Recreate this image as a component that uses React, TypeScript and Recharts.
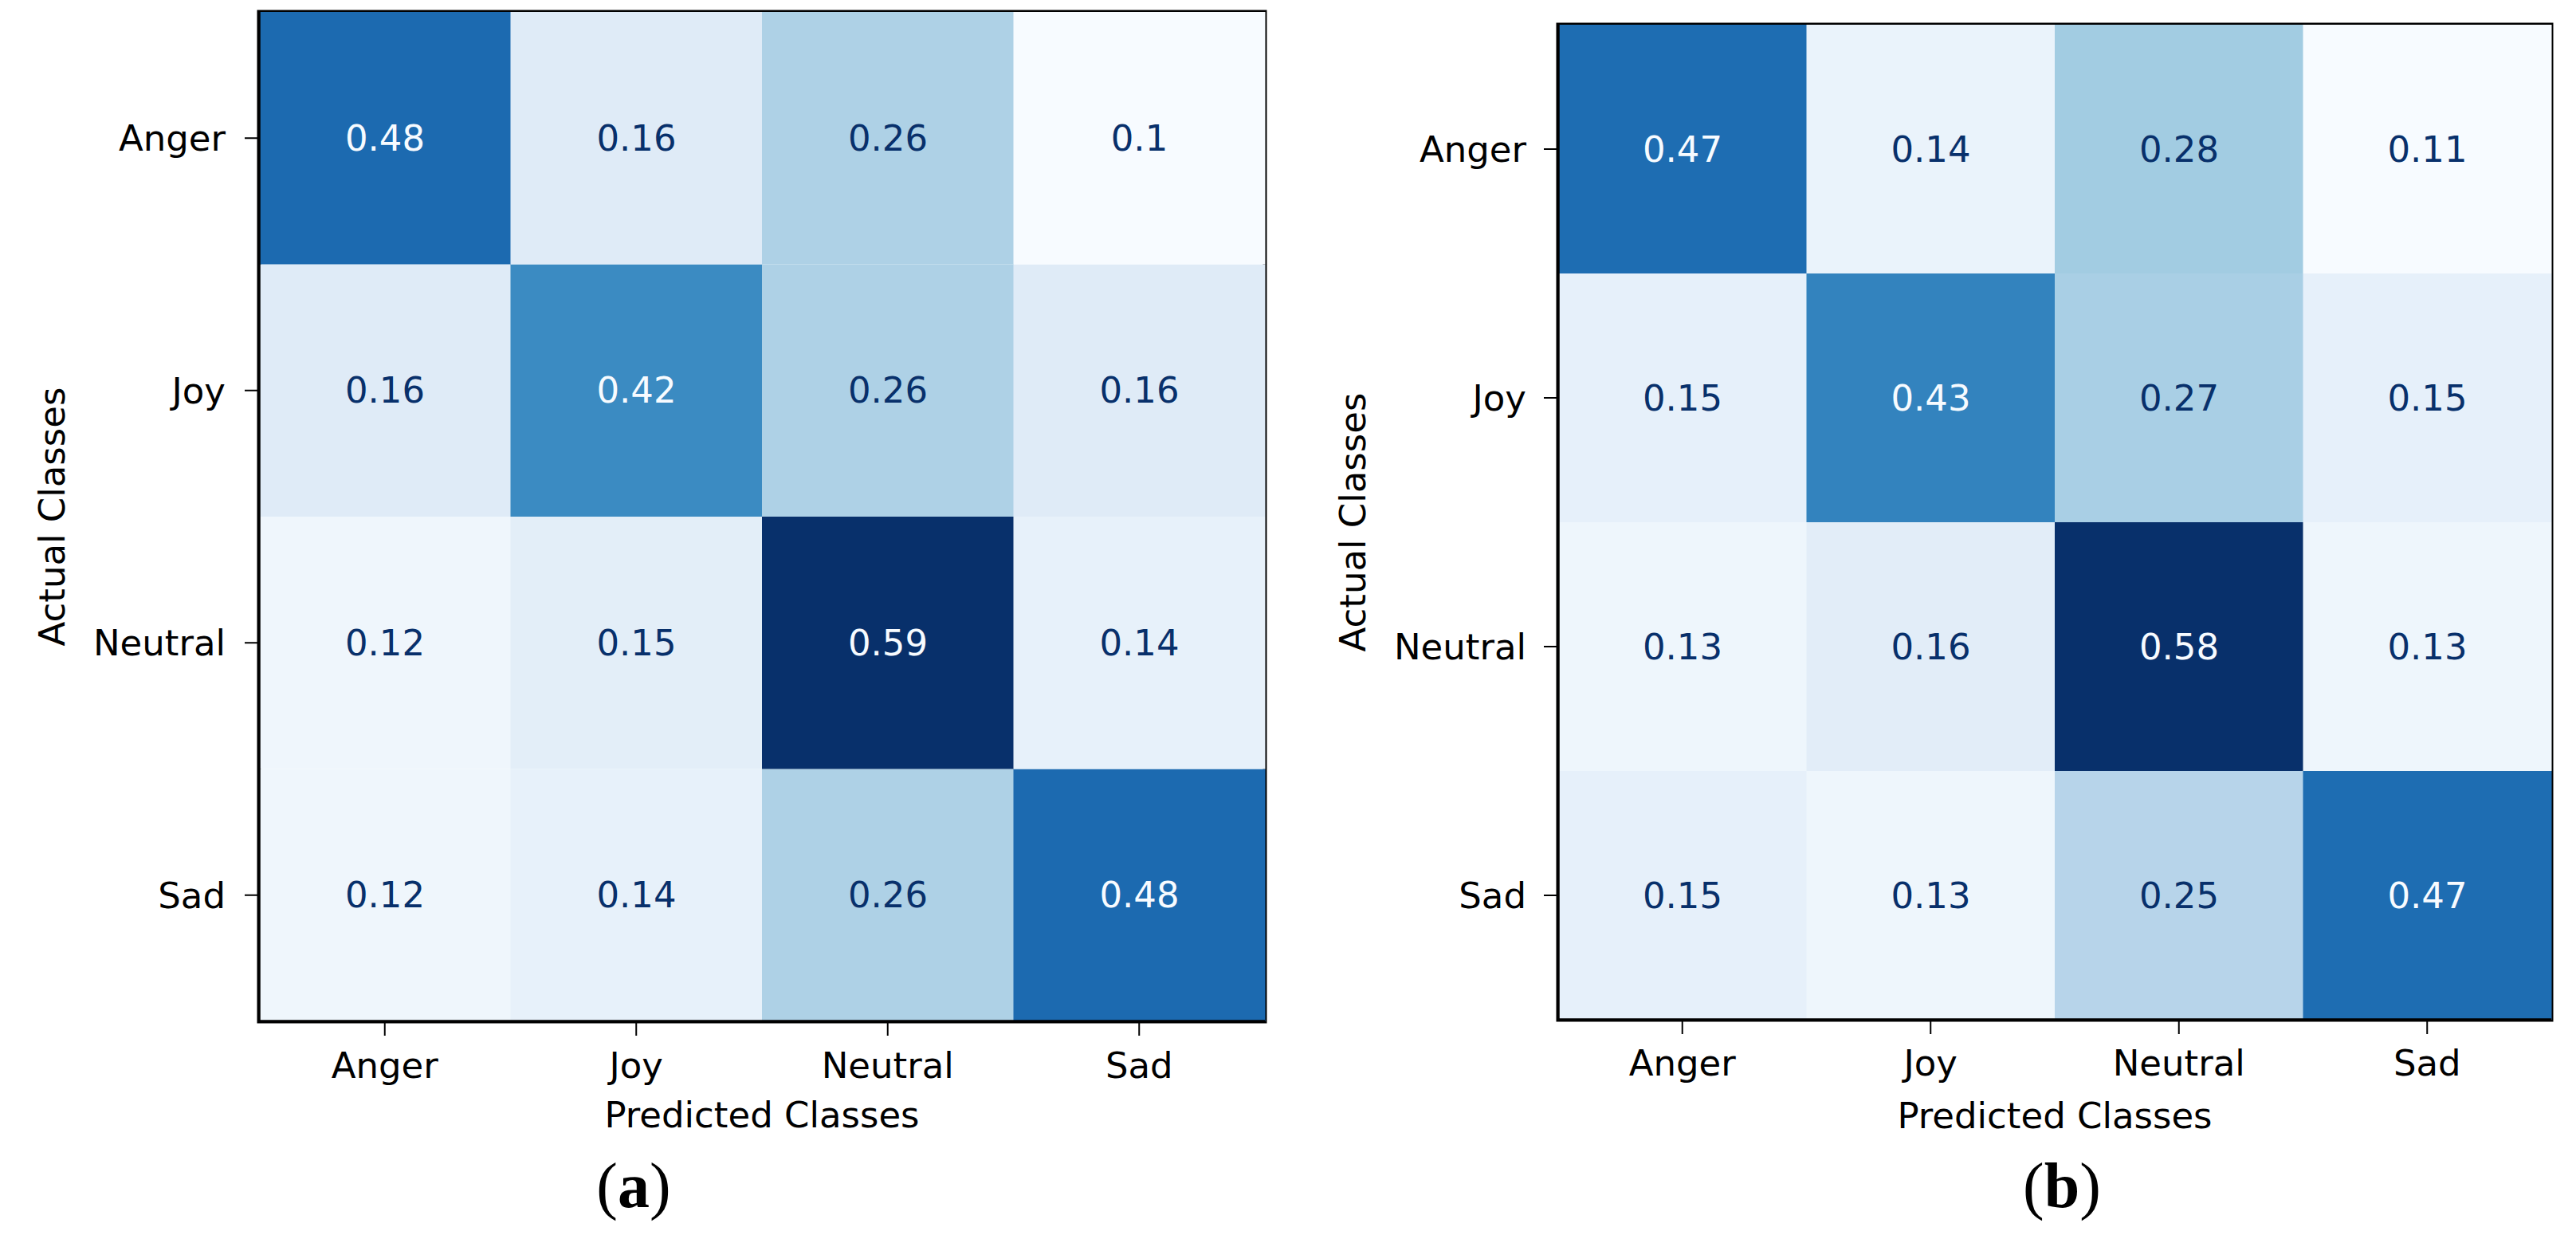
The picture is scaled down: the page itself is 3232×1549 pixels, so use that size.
import React from 'react';
import { BarChart, Bar, XAxis, YAxis, Cell, LabelList, ReferenceArea } from 'recharts';

const classes = ['Anger', 'Joy', 'Neutral', 'Sad'];
// rows = actual class, columns = predicted class
const matrixA = [
  [0.48, 0.16, 0.26, 0.1],
  [0.16, 0.42, 0.26, 0.16],
  [0.12, 0.15, 0.59, 0.14],
  [0.12, 0.14, 0.26, 0.48],
];
const matrixB = [
  [0.47, 0.14, 0.28, 0.11],
  [0.15, 0.43, 0.27, 0.15],
  [0.13, 0.16, 0.58, 0.13],
  [0.15, 0.13, 0.25, 0.47],
];
const yTicks = [3.5, 2.5, 1.5, 0.5];
const xAxisTitle = 'Predicted Classes';
const yAxisTitle = 'Actual Classes';
const captionLetters = ['a', 'b'];

const BLUES = ['#f7fbff', '#deebf7', '#c6dbef', '#9ecae1', '#6baed6', '#4292c6', '#2171b5', '#08519c', '#08306b'];

function hexToRgb(h: string) {
  return [parseInt(h.slice(1, 3), 16), parseInt(h.slice(3, 5), 16), parseInt(h.slice(5, 7), 16)];
}
function blues(t: number) {
  const tt = Math.max(0, Math.min(1, t));
  const p = tt * (BLUES.length - 1);
  const i = Math.min(BLUES.length - 2, Math.floor(p));
  const f = p - i;
  const a = hexToRgb(BLUES[i]);
  const b = hexToRgb(BLUES[i + 1]);
  const c = a.map((v, k) => Math.round(v + (b[k] - v) * f));
  return `rgb(${c[0]},${c[1]},${c[2]})`;
}

function buildRows(matrix: number[][]) {
  return classes.map((pred, j) => {
    const row: any = { pred };
    classes.forEach((_a, i) => {
      row['h' + i] = 1;
      row['v' + i] = matrix[i][j];
    });
    return row;
  });
}

const FONT = "'DejaVu Sans', sans-serif";
const FS = 45;

type PanelProps = {
  matrix: number[][];
  left: number;
  plotLeft: number;
  plotRight: number;
  plotTop: number;
  plotBottom: number;
  yLabelX: number;
  xTickMargin: number;
  yTickMargin: number;
  xLabelOffset: number;
};

function Panel(p: PanelProps) {
  const W = 1616;
  const H = 1549;
  const rows = buildRows(p.matrix);
  const flat = p.matrix.flat();
  const vmin = Math.min(...flat);
  const vmax = Math.max(...flat);
  const thr = (vmin + vmax) / 2;
  const order = [3, 2, 1, 0];
  const tickStyle = { fontFamily: FONT, fontSize: FS, fill: '#000' };
  const axisLine = { stroke: '#000', strokeWidth: 3.5 };
  const renderCell = (props: any) => {
    const { x, y, width, height, value } = props;
    const color = value >= thr ? BLUES[0] : BLUES[BLUES.length - 1];
    return (
      <text
        x={x + width / 2}
        y={y + height / 2}
        textAnchor="middle"
        dominantBaseline="central"
        fontFamily={FONT}
        fontSize={FS}
        fill={color}
      >
        {String(value)}
      </text>
    );
  };
  return (
    <div style={{ position: 'absolute', left: p.left, top: 0, width: W, height: H }}>
      <BarChart
        width={W}
        height={H}
        data={rows}
        barCategoryGap={0}
        barGap={0}
        margin={{ top: p.plotTop, right: W - p.plotRight, bottom: 0, left: 0 }}
      >
        {order.map((i) => (
          <Bar key={i} dataKey={'h' + i} stackId="s" isAnimationActive={false}>
            {rows.map((r, j) => (
              <Cell key={j} fill={blues((r['v' + i] - vmin) / (vmax - vmin))} />
            ))}
            <LabelList dataKey={'v' + i} content={renderCell} />
          </Bar>
        ))}
        <XAxis
          dataKey="pred"
          type="category"
          interval={0}
          height={H - p.plotBottom}
          tickSize={18}
          tickMargin={p.xTickMargin}
          tick={tickStyle}
          tickLine={{ stroke: '#000', strokeWidth: 2 }}
          axisLine={axisLine}
          label={{
            value: xAxisTitle,
            position: 'insideTop',
            offset: p.xLabelOffset,
            style: { fontFamily: FONT, fontSize: FS, fill: '#000' },
          }}
        />
        <YAxis
          type="number"
          domain={[0, 4]}
          ticks={yTicks}
          width={p.plotLeft}
          tickSize={18}
          tickMargin={p.yTickMargin}
          tick={tickStyle}
          tickLine={{ stroke: '#000', strokeWidth: 2 }}
          axisLine={axisLine}
          tickFormatter={(v: number) => classes[3 - Math.floor(v)]}
          label={{
            value: yAxisTitle,
            angle: -90,
            position: 'insideLeft',
            offset: p.yLabelX,
            style: { fontFamily: FONT, fontSize: FS, fill: '#000', textAnchor: 'middle' },
          }}
        />
        <ReferenceArea
          x1={classes[0]}
          x2={classes[classes.length - 1]}
          y1={0}
          y2={4}
          fill="none"
          fillOpacity={0}
          stroke="#000"
          strokeWidth={5}
          ifOverflow="visible"
        />
      </BarChart>
    </div>
  );
}

export default function App() {
  return (
    <div style={{ position: 'absolute', left: 0, top: 0, width: 3232, height: 1549, background: '#fff', overflow: 'hidden' }}>
      <Panel
        matrix={matrixA}
        left={0}
        plotLeft={325}
        plotRight={1587}
        plotTop={15}
        plotBottom={1281}
        yLabelX={65}
        xTickMargin={21}
        yTickMargin={24}
        xLabelOffset={101}
      />
      <Panel
        matrix={matrixB}
        left={1616}
        plotLeft={339}
        plotRight={1585}
        plotTop={31}
        plotBottom={1279}
        yLabelX={81}
        xTickMargin={20}
        yTickMargin={22}
        xLabelOffset={104}
      />
      <svg width={3232} height={1549} style={{ position: 'absolute', left: 0, top: 0, pointerEvents: 'none' }}>
        {captionLetters.map((c, k) => (
          <text
            key={c}
            x={k === 0 ? 795 : 2587}
            y={1514}
            textAnchor="middle"
            fontFamily="'Liberation Serif', serif"
            fontSize={80}
            fill="#000"
          >
            (<tspan fontWeight="bold">{c}</tspan>)
          </text>
        ))}
      </svg>
    </div>
  );
}
